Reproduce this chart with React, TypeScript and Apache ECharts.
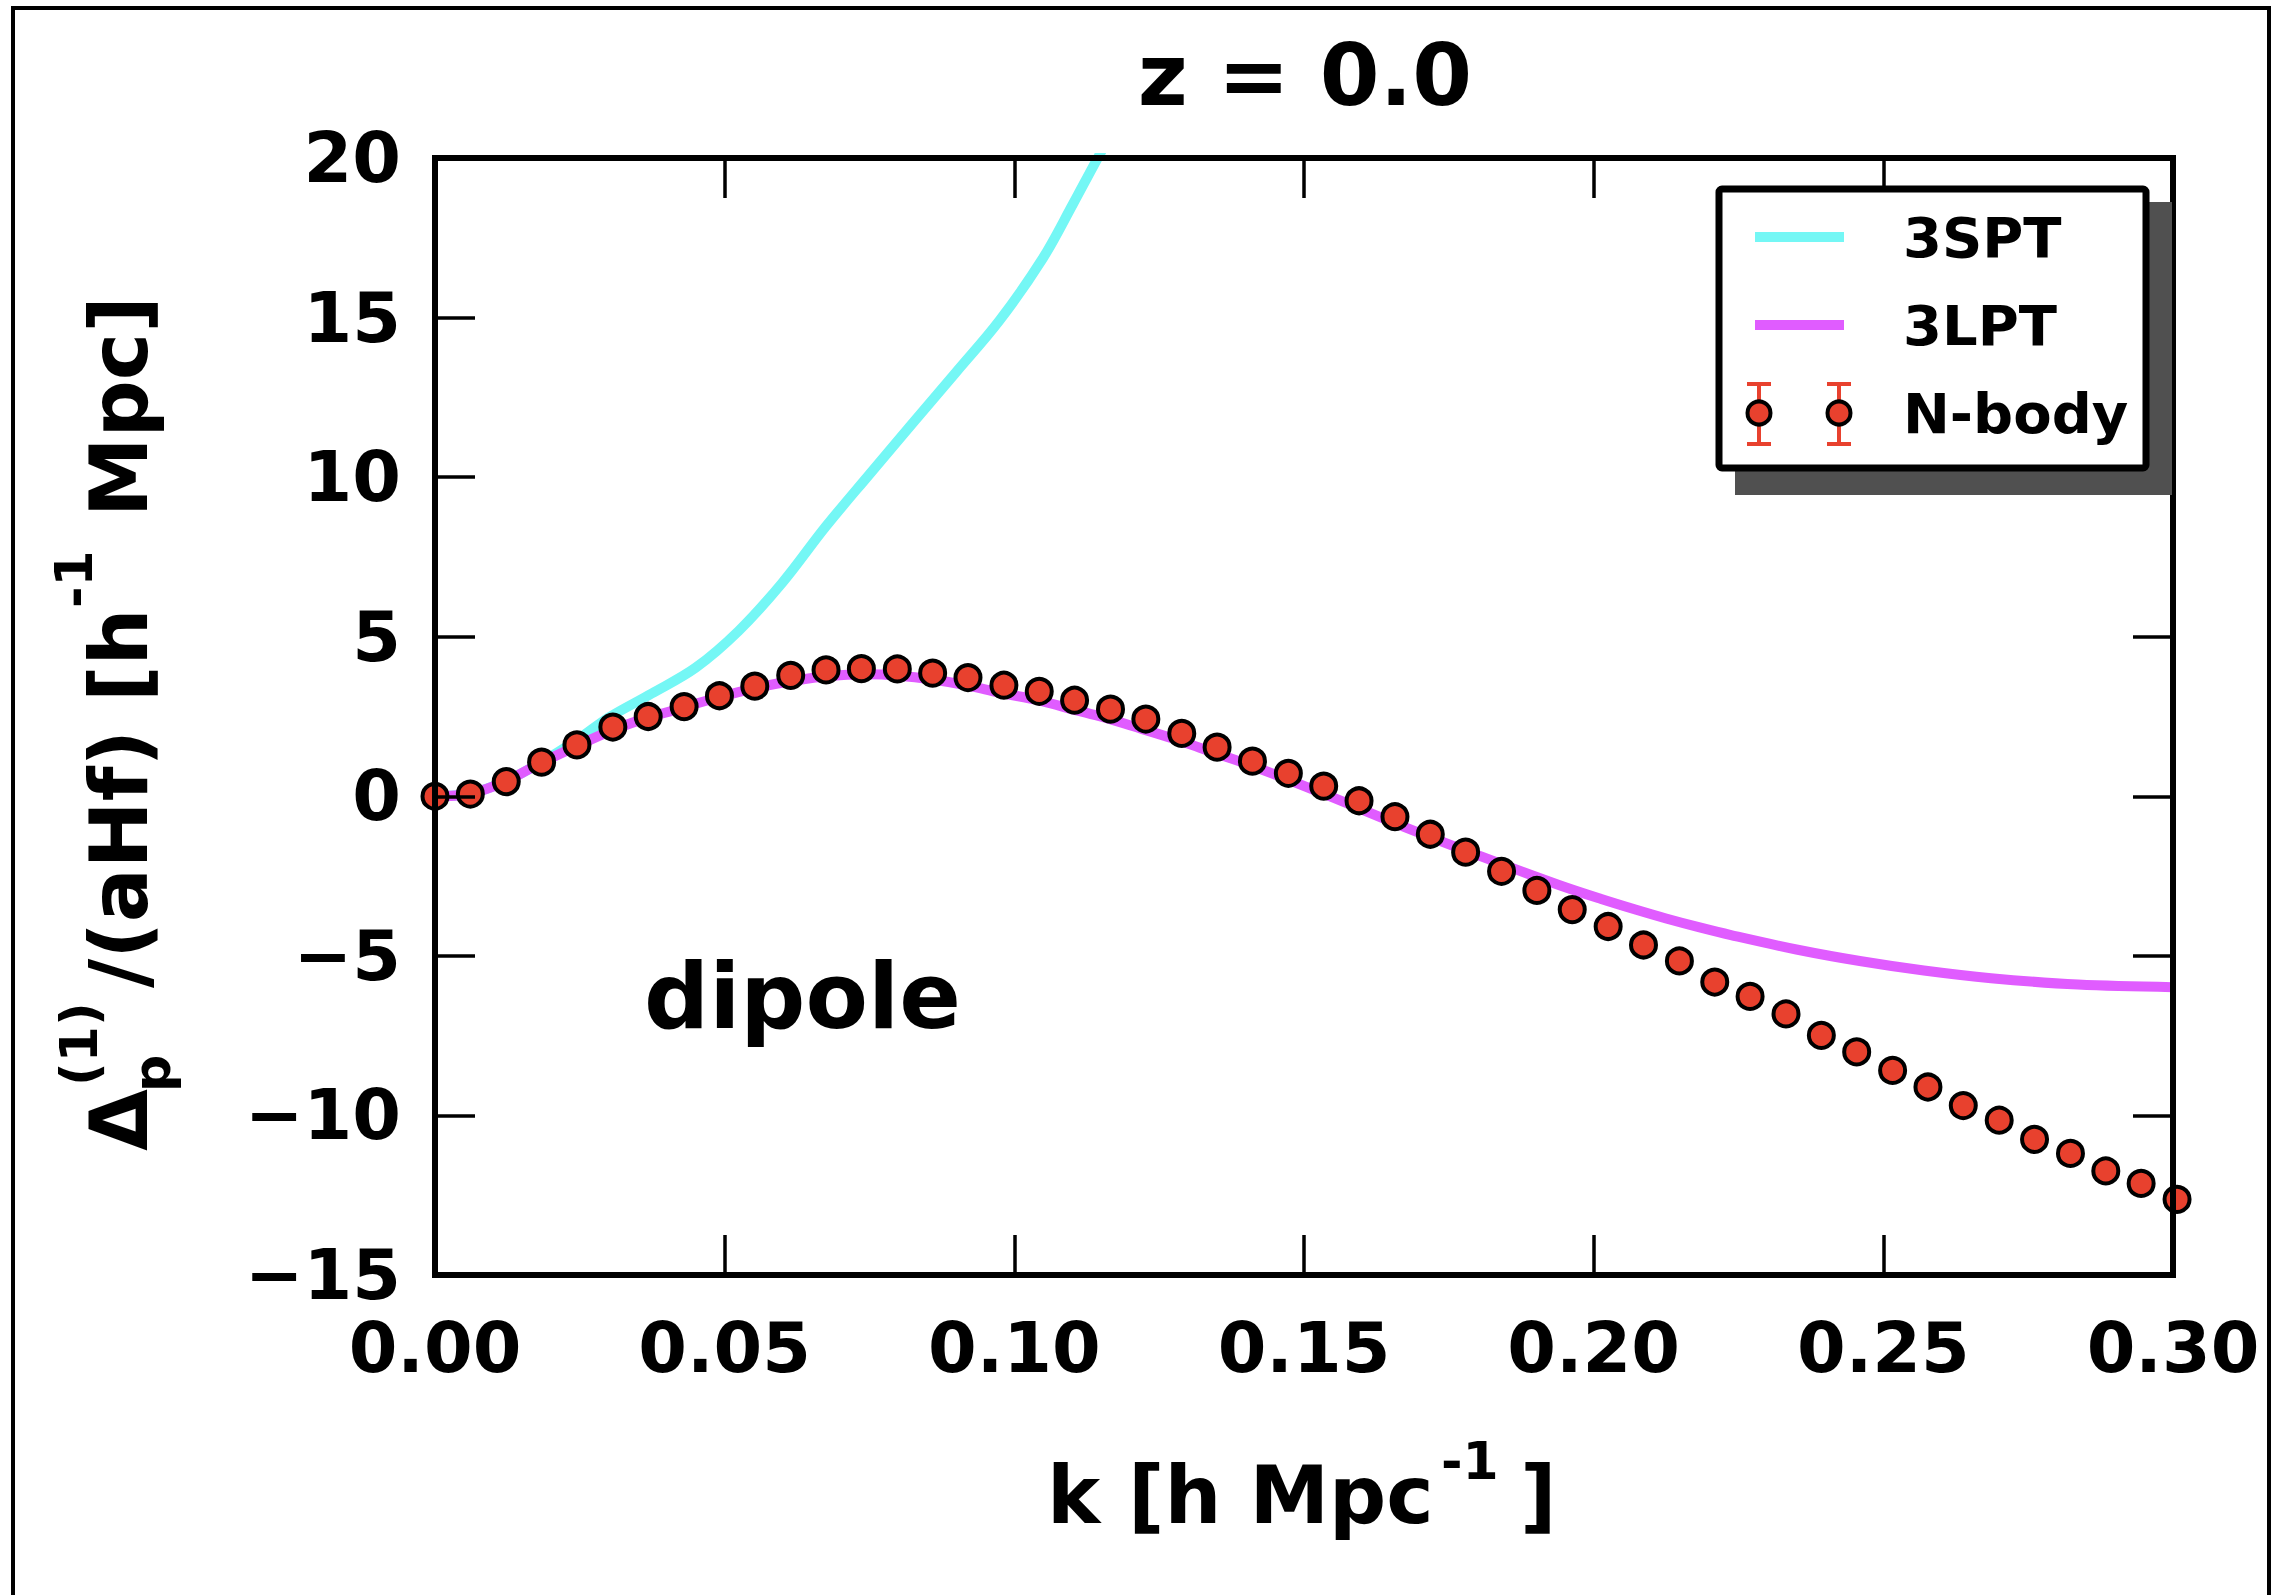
import React, { useEffect, useRef } from "react";
import * as echarts from "echarts";

// ---- data ----
const nbodyK = [
  0, 0.0061, 0.0123, 0.0184, 0.0245, 0.0307, 0.0368, 0.043, 0.0491, 0.0552,
  0.0614, 0.0675, 0.0736, 0.0798, 0.0859, 0.092, 0.0982, 0.1043, 0.1104, 0.1166,
  0.1227, 0.1289, 0.135, 0.1411, 0.1473, 0.1534, 0.1595, 0.1657, 0.1718, 0.1779,
  0.1841, 0.1902, 0.1963, 0.2025, 0.2086, 0.2148, 0.2209, 0.227, 0.2332, 0.2393,
  0.2454, 0.2516, 0.2577, 0.2638, 0.27, 0.2761, 0.2823, 0.2884, 0.2945, 0.3007,
];
const nbodyV = [
  0, 0.07, 0.46, 1.07, 1.61, 2.17, 2.5, 2.81, 3.15, 3.45,
  3.79, 3.96, 4.0, 3.99, 3.86, 3.72, 3.48, 3.29, 3.01, 2.73,
  2.42, 1.97, 1.54, 1.1, 0.72, 0.32, -0.14, -0.64, -1.19, -1.75,
  -2.35, -2.95, -3.55, -4.08, -4.66, -5.16, -5.82, -6.27, -6.82, -7.49,
  -8.01, -8.59, -9.11, -9.69, -10.15, -10.75, -11.19, -11.74, -12.13, -12.63,
];

const lptK = [
  0, 0.006, 0.012, 0.018, 0.025, 0.031, 0.037, 0.043, 0.0456, 0.05, 0.056, 0.062,
  0.068, 0.0744, 0.08, 0.0859, 0.092, 0.0974, 0.1044, 0.1089, 0.1147, 0.1204,
  0.1279, 0.132, 0.1411, 0.1543, 0.1676, 0.1808, 0.194, 0.2013, 0.2072, 0.2125,
  0.2183, 0.2237, 0.235, 0.2462, 0.257, 0.2686, 0.2836, 0.3,
];
const lptV = [
  0, 0.08, 0.45, 1.02, 1.62, 2.1, 2.48, 2.78, 2.93, 3.15, 3.42, 3.62,
  3.77, 3.82, 3.78, 3.66, 3.47, 3.25, 3.0, 2.78, 2.51, 2.2,
  1.78, 1.52, 0.95, 0.01, -0.98, -1.9, -2.78, -3.22, -3.55, -3.83,
  -4.11, -4.35, -4.8, -5.17, -5.46, -5.7, -5.9, -5.98,
];

const sptK = [
  0, 0.006, 0.012, 0.018, 0.0247, 0.03, 0.0374, 0.045, 0.0524, 0.0599, 0.0674,
  0.0749, 0.0824, 0.0899, 0.0974, 0.1049, 0.1101, 0.1135, 0.118,
];
const sptV = [
  0, 0.08, 0.46, 1.03, 1.79, 2.47, 3.22, 4.03, 5.18, 6.68, 8.44,
  10.07, 11.68, 13.28, 14.9, 16.85, 18.55, 19.7, 21.2,
];

const xTicks = [0, 0.05, 0.1, 0.15, 0.2, 0.25, 0.3];
const yTicks = [-15, -10, -5, 0, 5, 10, 15, 20];

const seriesNames = ["3SPT", "3LPT", "N-body"];
const titleText = "z = 0.0";
const annotationText = "dipole";

const CYAN = "#74f7f5";
const MAGENTA = "#e05cff";
const RED = "#e8412e";
const FONT = "DejaVu Sans";

const zip = (a: number[], b: number[]) => a.map((v, i) => [v, b[i]]);

export default function App() {
  const ref = useRef<HTMLDivElement>(null);

  useEffect(() => {
    if (!ref.current) return;
    const chart = echarts.init(ref.current, null, { renderer: "svg" });

    const axisLineStyle = { color: "#000", width: 6, cap: "square" as const };
    const tickStyle = { color: "#000", width: 3.5 };
    const labelStyle = {
      color: "#000",
      fontFamily: FONT,
      fontWeight: "bold" as const,
      fontSize: 70,
    };

    const xBase = {
      type: "value" as const,
      min: xTicks[0],
      max: xTicks[xTicks.length - 1],
      interval: 0.05,
      splitLine: { show: false },
      axisLine: { show: true, onZero: false, lineStyle: axisLineStyle },
      axisTick: { show: true, inside: true, length: 40, lineStyle: tickStyle },
      z: 5,
    };
    const yBase = {
      type: "value" as const,
      min: yTicks[0],
      max: yTicks[yTicks.length - 1],
      interval: 5,
      splitLine: { show: false },
      axisLine: { show: true, onZero: false, lineStyle: axisLineStyle },
      axisTick: { show: true, inside: true, length: 40, lineStyle: tickStyle },
      z: 5,
    };

    const T = 100;
    const txt = (
      x: number,
      y: number,
      text: string,
      fontSize: number,
      align: string = "left"
    ) => ({
      type: "text",
      x,
      y,
      z: T,
      style: {
        text,
        fill: "#000",
        font: `bold ${fontSize}px "${FONT}"`,
        align,
        verticalAlign: "middle",
      },
    });

    // legend geometry
    const LX = 1719, LY = 189, LW = 427, LH = 279;
    const markerXs = [1759, 1839];
    const markerY = 413;
    const errorBars: any[] = [];
    markerXs.forEach((mx) => {
      errorBars.push(
        { type: "line", z: T, shape: { x1: mx, y1: 384, x2: mx, y2: 444 }, style: { stroke: RED, lineWidth: 4 } },
        { type: "line", z: T, shape: { x1: mx - 12, y1: 384, x2: mx + 12, y2: 384 }, style: { stroke: RED, lineWidth: 4 } },
        { type: "line", z: T, shape: { x1: mx - 12, y1: 444, x2: mx + 12, y2: 444 }, style: { stroke: RED, lineWidth: 4 } },
        { type: "circle", z: T + 1, shape: { cx: mx, cy: markerY, r: 11.5 }, style: { fill: RED, stroke: "#000", lineWidth: 4 } }
      );
    });

    chart.setOption({
      animation: false,
      backgroundColor: "#fff",
      grid: { left: 435, top: 158, width: 1738, height: 1117, containLabel: false },
      xAxis: [
        {
          ...xBase,
          position: "bottom",
          axisLabel: {
            ...labelStyle,
            margin: 38,
            showMinLabel: true,
            showMaxLabel: true,
            formatter: (v: number) => v.toFixed(2),
          },
        },
        { ...xBase, position: "top", axisLabel: { show: false } },
      ],
      yAxis: [
        {
          ...yBase,
          position: "left",
          axisLabel: {
            ...labelStyle,
            margin: 34,
            showMinLabel: true,
            showMaxLabel: true,
            formatter: (v: number) => String(v).replace("-", "\u2212"),
          },
        },
        { ...yBase, position: "right", axisLabel: { show: false } },
      ],
      legend: { show: false },
      series: [
        {
          name: seriesNames[0],
          type: "line",
          xAxisIndex: 0,
          yAxisIndex: 0,
          data: zip(sptK, sptV),
          showSymbol: false,
          smooth: 0.35,
          clip: true,
          lineStyle: { color: CYAN, width: 10 },
          itemStyle: { color: CYAN },
          z: 2,
        },
        {
          name: seriesNames[1],
          type: "line",
          xAxisIndex: 0,
          yAxisIndex: 0,
          data: zip(lptK, lptV),
          showSymbol: false,
          smooth: 0.35,
          clip: true,
          lineStyle: { color: MAGENTA, width: 10 },
          itemStyle: { color: MAGENTA },
          z: 3,
        },
        {
          name: seriesNames[2],
          type: "scatter",
          xAxisIndex: 0,
          yAxisIndex: 0,
          data: zip(nbodyK, nbodyV),
          symbol: "circle",
          symbolSize: 25,
          clip: false,
          itemStyle: { color: RED, borderColor: "#000", borderWidth: 4, opacity: 1 },
          z: 4,
        },
      ],
      graphic: [
        // outer frame
        {
          type: "rect",
          z: 0,
          shape: { x: 13, y: 8, width: 2256, height: 1620 },
          style: { fill: "none", stroke: "#000", lineWidth: 4 },
        },
        // title
        txt(1305, 75, titleText, 86, "center"),
        // annotation
        txt(644, 996, annotationText, 91, "left"),
        // x axis name
        txt(1047, 1495, "k [h Mpc", 80, "left"),
        txt(1441, 1461, "-1", 52, "left"),
        txt(1520, 1495, "]", 80, "left"),
        // y axis name (rotated group)
        {
          type: "group",
          x: 119,
          y: 1151,
          rotation: Math.PI / 2,
          z: T,
          children: [
            txt(0, 0, "\u0394", 80, "left"),
            txt(59, 33, "p", 52, "left"),
            txt(65, -40, "(1)", 52, "left"),
            txt(163, 0, "/(aHf) [h", 80, "left"),
            txt(543, -45, "-1", 52, "left"),
            txt(634, 0, "Mpc]", 80, "left"),
          ],
        },
        // legend shadow and box
        {
          type: "rect",
          z: T - 2,
          shape: { x: 1735, y: 202, width: 437, height: 293 },
          style: { fill: "#505050" },
        },
        {
          type: "rect",
          z: T - 1,
          shape: { x: LX, y: LY, width: LW, height: LH, r: 3 },
          style: { fill: "#fff", stroke: "#000", lineWidth: 7 },
        },
        { type: "line", z: T, shape: { x1: 1755, y1: 237, x2: 1844, y2: 237 }, style: { stroke: CYAN, lineWidth: 10 } },
        { type: "line", z: T, shape: { x1: 1755, y1: 325, x2: 1844, y2: 325 }, style: { stroke: MAGENTA, lineWidth: 10 } },
        ...errorBars,
        txt(1903, 237, seriesNames[0], 56, "left"),
        txt(1903, 325, seriesNames[1], 56, "left"),
        txt(1903, 413, seriesNames[2], 56, "left"),
      ],
    });

    return () => chart.dispose();
  }, []);

  return (
    <div
      ref={ref}
      style={{ position: "fixed", left: 0, top: 0, width: 2281, height: 1595, background: "#fff" }}
    />
  );
}
